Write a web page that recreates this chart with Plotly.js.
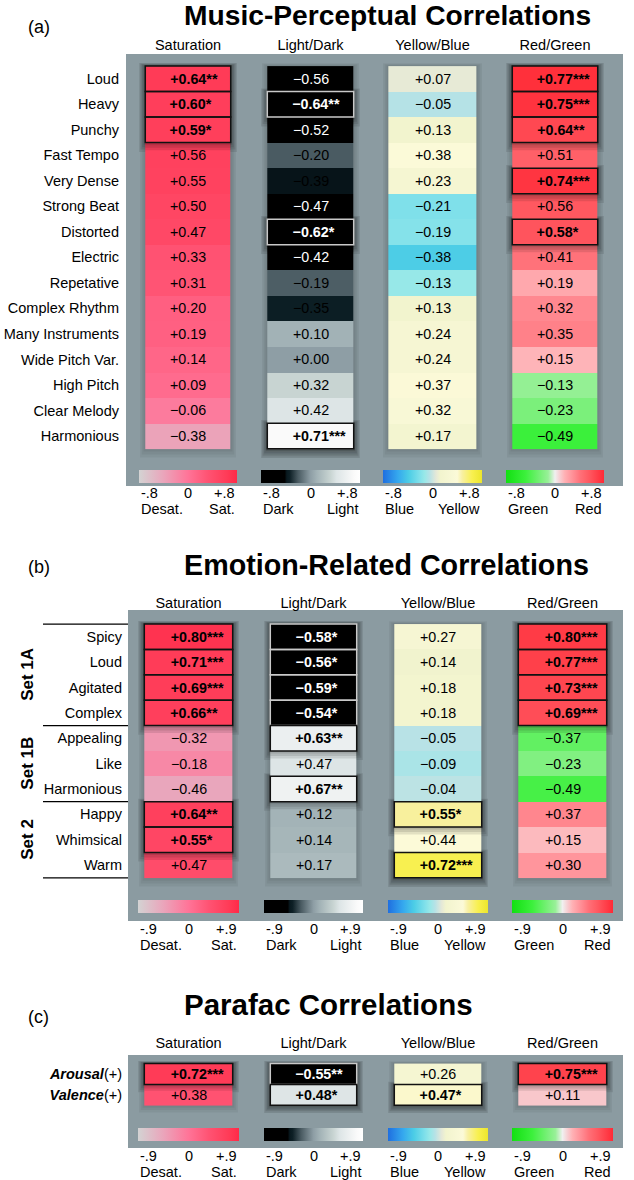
<!DOCTYPE html>
<html><head><meta charset="utf-8">
<script src="https://cdn.plot.ly/plotly-3.0.1.min.js"></script>
<style>html,body{margin:0;padding:0;background:#fff}#chart{width:634px;height:1180px}</style>
</head><body><div id="chart"></div>
<script>
// ---------------- DATA ----------------
const columns = ["Saturation", "Light/Dark", "Yellow/Blue", "Red/Green"];
const scaleEnds = [["Desat.", "Sat."], ["Dark", "Light"], ["Blue", "Yellow"], ["Green", "Red"]];

// (a) Music-Perceptual Correlations
const aRows = ["Loud", "Heavy", "Punchy", "Fast Tempo", "Very Dense", "Strong Beat", "Distorted", "Electric",
  "Repetative", "Complex Rhythm", "Many Instruments", "Wide Pitch Var.", "High Pitch", "Clear Melody", "Harmonious"];
const aSaturation    = [0.64, 0.60, 0.59, 0.56, 0.55, 0.50, 0.47, 0.33, 0.31, 0.20, 0.19, 0.14, 0.09, -0.06, -0.38];
const aSaturationSig = ["**", "*", "*", "", "", "", "", "", "", "", "", "", "", "", ""];
const aLightDark     = [-0.56, -0.64, -0.52, -0.20, -0.39, -0.47, -0.62, -0.42, -0.19, -0.35, 0.10, 0.00, 0.32, 0.42, 0.71];
const aLightDarkSig  = ["", "**", "", "", "", "", "*", "", "", "", "", "", "", "", "***"];
const aYellowBlue    = [0.07, -0.05, 0.13, 0.38, 0.23, -0.21, -0.19, -0.38, -0.13, 0.13, 0.24, 0.24, 0.37, 0.32, 0.17];
const aYellowBlueSig = ["", "", "", "", "", "", "", "", "", "", "", "", "", "", ""];
const aRedGreen      = [0.77, 0.75, 0.64, 0.51, 0.74, 0.56, 0.58, 0.41, 0.19, 0.32, 0.35, 0.15, -0.13, -0.23, -0.49];
const aRedGreenSig   = ["***", "***", "**", "", "***", "", "*", "", "", "", "", "", "", "", ""];
const aScaleTicks = ["-.8", "0", "+.8"];
const aScaleMax = 0.8;

// (b) Emotion-Related Correlations
const bRows = ["Spicy", "Loud", "Agitated", "Complex", "Appealing", "Like", "Harmonious", "Happy", "Whimsical", "Warm"];
const bGroups = ["Set 1A", "Set 1B", "Set 2"];
const bGroupSizes = [4, 3, 3];
const bSaturation    = [0.80, 0.71, 0.69, 0.66, -0.32, -0.18, -0.46, 0.64, 0.55, 0.47];
const bSaturationSig = ["***", "***", "***", "**", "", "", "", "**", "*", ""];
const bLightDark     = [-0.58, -0.56, -0.59, -0.54, 0.63, 0.47, 0.67, 0.12, 0.14, 0.17];
const bLightDarkSig  = ["*", "*", "*", "*", "**", "", "**", "", "", ""];
const bYellowBlue    = [0.27, 0.14, 0.18, 0.18, -0.05, -0.09, -0.04, 0.55, 0.44, 0.72];
const bYellowBlueSig = ["", "", "", "", "", "", "", "*", "", "***"];
const bRedGreen      = [0.80, 0.77, 0.73, 0.69, -0.37, -0.23, -0.49, 0.37, 0.15, 0.30];
const bRedGreenSig   = ["***", "***", "***", "***", "", "", "", "", "", ""];
const bScaleTicks = ["-.9", "0", "+.9"];
const bScaleMax = 0.9;

// (c) Parafac Correlations
const cRows = ["Arousal(+)", "Valence(+)"];
const cSaturation    = [0.72, 0.38];
const cSaturationSig = ["***", ""];
const cLightDark     = [-0.55, 0.48];
const cLightDarkSig  = ["**", "*"];
const cYellowBlue    = [0.26, 0.47];
const cYellowBlueSig = ["", "*"];
const cRedGreen      = [0.75, 0.11];
const cRedGreenSig   = ["***", ""];
const cScaleTicks = ["-.9", "0", "+.9"];
const cScaleMax = 0.9;

// ---------------- STYLE / GEOMETRY ----------------
const W = 634, H = 1180;
const FONT = "Liberation Sans, Arial, Helvetica, sans-serif";
const BG = "#8b9ba1";
const scales = [
  [[0, '#d3d3d3'], [0.25, '#eaa5bb'], [0.5, '#ff7498'], [0.7, '#ff5373'], [0.9, '#ff3b57'], [1, '#ff2a48']],
  [[0, '#000000'], [0.24, '#000000'], [0.26, '#08191f'], [0.29, '#0e2026'], [0.375, '#4a5b62'], [0.5, '#8e9ea5'],
   [0.5625, '#a2b2b6'], [0.7, '#c8d4d2'], [0.7625, '#dde5e6'], [0.94, '#fafafa'], [1, '#ffffff']],
  [[0, '#1f6fe0'], [0.15, '#35a8ee'], [0.26, '#4ccde6'], [0.37, '#80e0ea'], [0.42, '#98e8e8'], [0.47, '#b6e2e6'],
   [0.535, '#e4e8d8'], [0.58, '#f2f4ce'], [0.7, '#f8f8d6'], [0.75, '#fcfad8'], [0.8, '#f8f0a2'], [0.9, '#f8f050'], [1, '#ece62c']],
  [[0, '#12e012'], [0.2, '#3cf03c'], [0.36, '#7cf07c'], [0.43, '#98f098'], [0.5, '#f0f0f0'], [0.56, '#f8c8cc'],
   [0.6, '#ffb0b4'], [0.7, '#ff8890'], [0.76, '#ff7078'], [0.85, '#ff5860'], [0.9, '#ff4852'], [1, '#ff2a36']]
];

const colsA = [[139, 237], [261, 360], [383, 482], [506, 604]];
const colsB = [[138, 239], [264, 363], [388, 488], [512, 613]];
const panels = [
  { title: "Music-Perceptual Correlations", tag: "(a)", rows: aRows,
    values: [aSaturation, aLightDark, aYellowBlue, aRedGreen],
    sigs: [aSaturationSig, aLightDarkSig, aYellowBlueSig, aRedGreenSig],
    ticks: aScaleTicks, max: aScaleMax,
    g: { titleY: 15, titleSize: 28.2, tagY: 27, headerY: 44, bg: [126, 623, 54, 486], rowTop: 63, rowBot: 458, cols: colsA,
         strip: [470, 483], tickY: 493, nameY: 509, labelRight: 117 } },
  { title: "Emotion-Related Correlations", tag: "(b)", rows: bRows,
    values: [bSaturation, bLightDark, bYellowBlue, bRedGreen],
    sigs: [bSaturationSig, bLightDarkSig, bYellowBlueSig, bRedGreenSig],
    ticks: bScaleTicks, max: bScaleMax, groups: bGroups, groupSizes: bGroupSizes,
    g: { titleY: 565, titleSize: 28.7, tagY: 567, headerY: 596, bg: [128, 623, 610, 921], rowTop: 621, rowBot: 887, cols: colsB,
         strip: [900, 913], tickY: 929, nameY: 945, labelRight: 120 } },
  { title: "Parafac Correlations", tag: "(c)", rows: cRows, italicLead: true,
    values: [cSaturation, cLightDark, cYellowBlue, cRedGreen],
    sigs: [cSaturationSig, cLightDarkSig, cYellowBlueSig, cRedGreenSig],
    ticks: cScaleTicks, max: cScaleMax,
    g: { titleY: 1005, titleSize: 29.5, tagY: 1017, headerY: 1038, bg: [128, 623, 1055, 1148], rowTop: 1061, rowBot: 1113, cols: colsB,
         strip: [1128, 1141], tickY: 1156, nameY: 1172, labelRight: 120 } }
];

const px = x => x / W;
const py = y => 1 - y / H;
const fmt = v => (v >= 0 ? "+" : "\u2212") + Math.abs(v).toFixed(2);

const traces = [];
const shapesBelow = [], shapesAbove = [];
const annotations = [];
const layout = {
  width: W, height: H, margin: { l: 0, r: 0, t: 0, b: 0, autoexpand: false },
  paper_bgcolor: "#ffffff", plot_bgcolor: "rgba(0,0,0,0)", showlegend: false,
  font: { family: FONT, color: "#000000" }
};

let axisCount = 0;
panels.forEach((p, pi) => {
  const g = p.g;
  const yName = pi === 0 ? "y" : "y" + (pi + 1);
  const yKey = pi === 0 ? "yaxis" : "yaxis" + (pi + 1);
  const n = p.rows.length;
  const rowH = (g.rowBot - g.rowTop) / n;
  const firstX = axisCount + 1;

  // grey panel background
  shapesBelow.push({ type: "rect", xref: "paper", yref: "paper", layer: "below",
    x0: px(g.bg[0]), x1: px(g.bg[1]), y0: py(g.bg[3]), y1: py(g.bg[2]), line: { width: 0 }, fillcolor: BG });

  // titles
  annotations.push({ xref: "paper", yref: "paper", x: px(182), y: py(g.titleY), xanchor: "left", yanchor: "middle",
    text: "<b>" + p.title + "</b>", showarrow: false, font: { size: g.titleSize, family: FONT, color: "#000" } });
  annotations.push({ xref: "paper", yref: "paper", x: px(26), y: py(g.tagY), xanchor: "left", yanchor: "middle",
    text: p.tag, showarrow: false, font: { size: 18, family: FONT, color: "#000" } });

  p.values.forEach((vals, ci) => {
    axisCount++;
    const xName = axisCount === 1 ? "x" : "x" + axisCount;
    const xKey = axisCount === 1 ? "xaxis" : "xaxis" + axisCount;
    const [c0, c1] = g.cols[ci];
    const colW = c1 - c0;
    const ux = 1 / colW, uy = 1 / rowH;
    layout[xKey] = { domain: [px(c0), px(c1)], anchor: yName, side: "top", type: "category",
      showgrid: false, zeroline: false, showline: false, ticks: "", ticklabelstandoff: 9,
      tickfont: { size: 14.5, family: FONT, color: "#000" }, fixedrange: true };

    traces.push({
      type: "heatmap", x: [columns[ci]], y: p.rows, z: vals.map(v => [v]),
      xaxis: xName, yaxis: yName, colorscale: scales[ci], zmin: -p.max, zmax: p.max,
      hoverinfo: "skip", showscale: true,
      colorbar: { orientation: "h", x: px((c0 + c1) / 2), xanchor: "center", y: py(g.strip[0]), yanchor: "top",
        len: colW, lenmode: "pixels", thickness: g.strip[1] - g.strip[0], thicknessmode: "pixels",
        xpad: 0, ypad: 0, outlinewidth: 0, borderwidth: 0, bgcolor: "rgba(0,0,0,0)",
        showticklabels: false, ticks: "" }
    });

    // column shadow
    for (let k = 3; k >= 1; k--) {
      shapesBelow.push({ type: "rect", xref: xName, yref: yName, layer: "below",
        x0: -0.5 - k * 2 * ux, x1: 0.5 + k * 2 * ux, y0: -0.5 - k * 1 * uy, y1: n - 0.5 + k * 3 * uy,
        line: { width: 0 }, fillcolor: "rgba(0,0,0,0.05)" });
    }

    // significant runs: shadows
    const sig = p.sigs[ci];
    let i = 0;
    while (i < n) {
      if (sig[i]) {
        let e = i;
        while (e + 1 < n && sig[e + 1]) e++;
        for (let k = 4; k >= 1; k--) {
          shapesBelow.push({ type: "rect", xref: xName, yref: yName, layer: "below",
            x0: -0.5 - k * 1.8 * ux, x1: 0.5 + k * 1.8 * ux, y0: i - 0.5 - k * 0.8 * uy, y1: e + 0.5 + k * 2.4 * uy,
            line: { width: 0 }, fillcolor: "rgba(0,0,0,0.09)" });
        }
        if (e < n - 1) {
          for (let k = 3; k >= 1; k--) {
            shapesAbove.push({ type: "rect", xref: xName, yref: yName, layer: "above",
              x0: -0.5, x1: 0.5, y0: e + 0.5, y1: e + 0.5 + k * 2.6 * uy,
              line: { width: 0 }, fillcolor: "rgba(0,0,0,0.10)" });
          }
        }
        i = e + 1;
      } else i++;
    }

    // cell texts & borders
    vals.forEach((v, ri) => {
      const dark = ci === 1 && v <= -0.4;
      const s = sig[ri];
      let txt = fmt(v) + s;
      if (s) txt = '<span style="color:rgba(0,0,0,0)">' + s + '</span>' + txt;
      if (s) txt = "<b>" + txt + "</b>";
      annotations.push({ xref: xName, yref: yName, x: 0, y: ri, text: txt, showarrow: false,
        xanchor: "center", yanchor: "middle",
        font: { size: 14.3, family: FONT, color: dark ? "#ffffff" : "#000000" } });
      if (s) {
        shapesAbove.push({ type: "rect", xref: xName, yref: yName, layer: "above",
          x0: -0.5, x1: 0.5, y0: ri - 0.5, y1: ri + 0.5,
          line: { width: 1.5, color: dark ? "#c9c9c9" : "#111111" }, fillcolor: "rgba(0,0,0,0)" });
      }
    });

    // scale tick labels & names
    const tf = { size: 14.5, family: FONT, color: "#000" };
    annotations.push({ xref: "paper", yref: "paper", x: px(c0), y: py(g.tickY), xanchor: "left", yanchor: "middle", text: p.ticks[0], showarrow: false, font: tf });
    annotations.push({ xref: "paper", yref: "paper", x: px((c0 + c1) / 2), y: py(g.tickY), xanchor: "center", yanchor: "middle", text: p.ticks[1], showarrow: false, font: tf });
    annotations.push({ xref: "paper", yref: "paper", x: px(c1), y: py(g.tickY), xanchor: "right", yanchor: "middle", text: p.ticks[2], showarrow: false, font: tf });
    annotations.push({ xref: "paper", yref: "paper", x: px(c0), y: py(g.nameY), xanchor: "left", yanchor: "middle", text: scaleEnds[ci][0], showarrow: false, font: tf });
    annotations.push({ xref: "paper", yref: "paper", x: px(c1), y: py(g.nameY), xanchor: "right", yanchor: "middle", text: scaleEnds[ci][1], showarrow: false, font: tf });
  });

  const firstXName = firstX === 1 ? "x" : "x" + firstX;
  const tickText = p.italicLead ? p.rows.map(r => r.replace(/^(\w+)/, "<b><i>$1</i></b>")) : p.rows;
  layout[yKey] = { domain: [py(g.rowBot), py(g.rowTop)], anchor: firstXName, type: "category", autorange: "reversed",
    showgrid: false, zeroline: false, showline: false, ticks: "",
    ticklabelstandoff: g.cols[0][0] - g.labelRight - 3,
    tickvals: p.rows, ticktext: tickText, tickfont: { size: 14.5, family: FONT, color: "#000" }, fixedrange: true };

  // group lines & labels (panel b)
  if (p.groups) {
    let start = 0;
    shapesAbove.push({ type: "line", xref: "paper", yref: yName, x0: px(43), x1: px(128), y0: -0.5, y1: -0.5, line: { width: 1.3, color: "#000" } });
    p.groups.forEach((gname, gi) => {
      const size = p.groupSizes[gi];
      const end = start + size;
      shapesAbove.push({ type: "line", xref: "paper", yref: yName, x0: px(43), x1: px(128), y0: end - 0.5, y1: end - 0.5, line: { width: 1.3, color: "#000" } });
      annotations.push({ xref: "paper", yref: yName, x: px(28), y: start + (size - 1) / 2, text: "<b>" + gname + "</b>",
        textangle: -90, showarrow: false, xanchor: "center", yanchor: "middle", font: { size: 17, family: FONT, color: "#000" } });
      start = end;
    });
  }
});

layout.shapes = shapesBelow.concat(shapesAbove);
layout.annotations = annotations;

Plotly.newPlot("chart", traces, layout, { staticPlot: true, displayModeBar: false });
</script>
</body></html>
